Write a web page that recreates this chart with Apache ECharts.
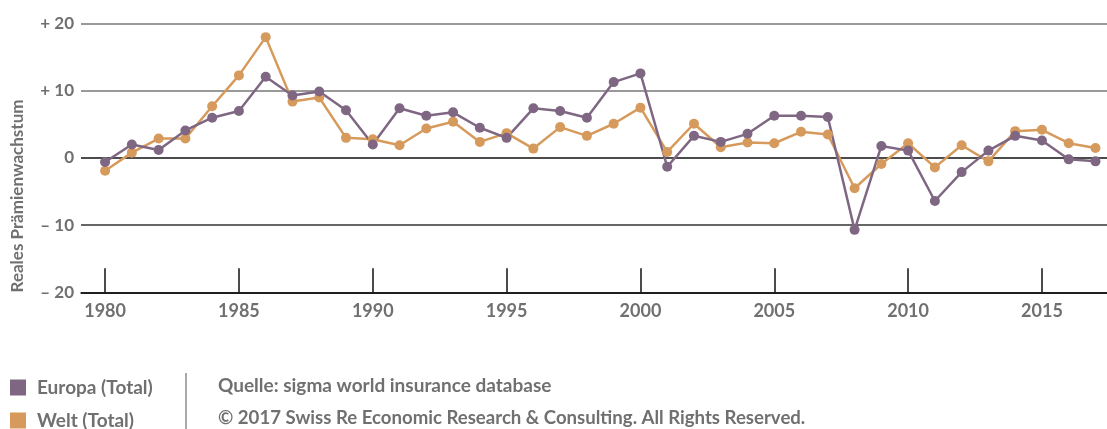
<!DOCTYPE html>
<html>
<head>
<meta charset="utf-8">
<script src="https://cdn.jsdelivr.net/npm/echarts@6/dist/echarts.min.js"></script>
<style>
  html, body { margin: 0; padding: 0; background: #fff; }
  #chart { width: 1107px; height: 429px; }
</style>
</head>
<body>
<div id="chart"></div>
<script>
const years = [];
for (let y = 1980; y <= 2017; y++) years.push(y);

const europa = [
  -0.6, 2.0, 1.2, 4.1, 6.0, 7.0, 12.1, 9.3, 9.9, 7.1,
  2.0, 7.4, 6.3, 6.8, 4.5, 3.0, 7.4, 7.0, 6.0, 11.3,
  12.6, -1.3, 3.3, 2.4, 3.6, 6.3, 6.3, 6.1, -10.7, 1.8,
  1.1, -6.4, -2.1, 1.1, 3.3, 2.6, -0.2, -0.5
];
const welt = [
  -1.9, 0.8, 2.9, 2.9, 7.7, 12.3, 18.0, 8.4, 9.0, 3.0,
  2.8, 1.9, 4.4, 5.4, 2.4, 3.7, 1.4, 4.6, 3.3, 5.1,
  7.5, 0.9, 5.1, 1.6, 2.3, 2.2, 3.9, 3.5, -4.5, -0.9,
  2.2, -1.4, 1.9, -0.5, 4.0, 4.2, 2.2, 1.5
];
const yearTicks = [1980, 1985, 1990, 1995, 2000, 2005, 2010, 2015];

const grau = "#707070";
const lila = "#7f6783";
const orange = "#d69a5c";
const schrift = "Lato, 'Open Sans', sans-serif";

const chart = echarts.init(document.getElementById("chart"));

// eine Legende pro Zeile, sonst bricht ECharts sie um
const legende = (name, top) => ({
  data: [name],
  orient: "vertical",
  left: 10,
  top: top,
  padding: 0,
  itemWidth: 16,
  itemHeight: 16,
  icon: "rect",
  selectedMode: false,
  textStyle: { color: grau, fontSize: 19, lineHeight: 16, fontWeight: "bold", padding: [0, 0, 0, 6] }
});

chart.setOption({
  animation: false,
  textStyle: { fontFamily: schrift },
  grid: { left: 81, right: 0, top: 23.7, bottom: 136.7 },
  legend: [legende("Europa (Total)", 378), legende("Welt (Total)", 411)],
  xAxis: {
    type: "value",
    min: 1979.1,
    max: 2017.43,
    axisLine: { onZero: false, lineStyle: { color: "#111", width: 1.5 } },
    axisTick: { show: true, inside: true, length: 24, customValues: yearTicks, lineStyle: { color: "#111", width: 1.5 } },
    axisLabel: { customValues: yearTicks, margin: 10, color: grau, fontSize: 18, fontWeight: "bold", formatter: (v) => String(v) },
    splitLine: { show: false }
  },
  yAxis: {
    type: "value",
    min: -20,
    max: 20,
    interval: 10,
    axisLine: { show: false },
    axisTick: { show: false },
    axisLabel: {
      margin: 7,
      color: grau,
      fontSize: 17,
      fontWeight: "bold",
      formatter: (v) => (v > 0 ? "+ " + v : v < 0 ? "\u2013 " + Math.abs(v) : "0")
    },
    splitLine: { lineStyle: { color: ["#111", "#333", "#111", "#777", "#777"], width: 1.5 } }
  },
  graphic: [
    {
      type: "text",
      x: 18,
      y: 196,
      rotation: Math.PI / 2,
      style: { text: "Reales Prämienwachstum", fill: grau, font: "bold 17px " + schrift, align: "center", verticalAlign: "middle" }
    },
    {
      type: "line",
      shape: { x1: 186, y1: 373, x2: 186, y2: 429 },
      style: { stroke: "#555", lineWidth: 1 }
    },
    {
      type: "text",
      x: 218,
      y: 386,
      style: { text: "Quelle: sigma world insurance database", fill: grau, font: "bold 19px " + schrift, verticalAlign: "middle" }
    },
    {
      type: "text",
      x: 218,
      y: 418,
      style: { text: "\u00a9 2017 Swiss Re Economic Research & Consulting. All Rights Reserved.", fill: grau, font: "bold 18.6px " + schrift, verticalAlign: "middle" }
    }
  ],
  series: [
    {
      name: "Welt (Total)",
      type: "line",
      data: years.map((y, i) => [y, welt[i]]),
      color: orange,
      symbol: "circle",
      symbolSize: 10,
      lineStyle: { width: 2.5 }
    },
    {
      name: "Europa (Total)",
      type: "line",
      data: years.map((y, i) => [y, europa[i]]),
      color: lila,
      symbol: "circle",
      symbolSize: 10,
      lineStyle: { width: 2.5 }
    }
  ]
});
</script>
</body>
</html>
